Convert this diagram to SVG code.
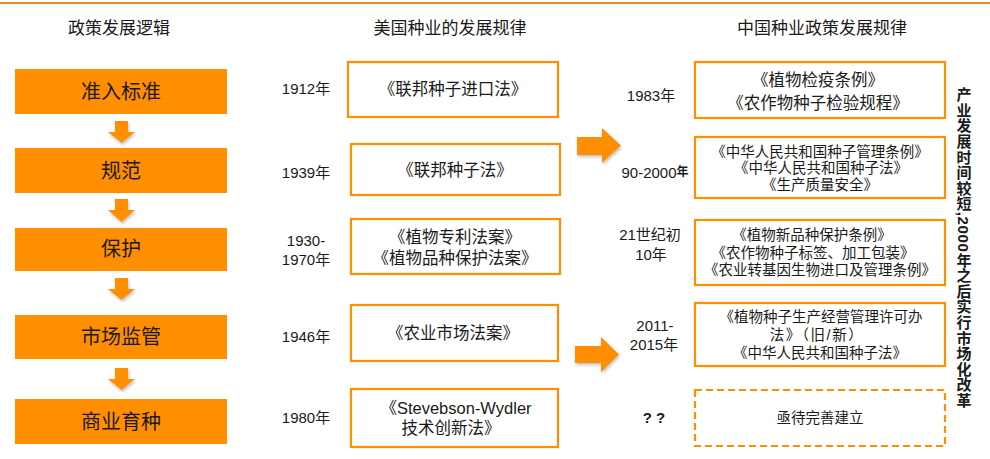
<svg xmlns="http://www.w3.org/2000/svg" width="990" height="459" viewBox="0 0 990 459">
<defs>
<style>
text{font-family:"Liberation Sans","Noto Sans CJK SC",sans-serif;fill:#1a1a1a;text-anchor:middle;dominant-baseline:central}
.hdr{font-size:17px}
.lb{fill:#FF8E00}
.lt{font-size:20px}
.yr{font-size:15px}
.ob{fill:#fff;stroke:#FF8E00;stroke-width:2.2}
.db{fill:#fff;stroke:#FF8E00;stroke-width:2.2;stroke-dasharray:7 4}
.mt{font-size:16.5px}
.rt{font-size:14.5px}
.arr{fill:#FF8E00;filter:url(#sh)}
.vt{font-size:15px;font-weight:bold;writing-mode:vertical-rl;text-anchor:start;dominant-baseline:central;letter-spacing:0.6px}
</style>
<filter id="sh" x="-30%" y="-30%" width="160%" height="160%">
<feDropShadow dx="1" dy="2" stdDeviation="1.5" flood-color="#000" flood-opacity="0.25"/>
</filter>
</defs>
<line x1="0" y1="3" x2="990" y2="3" stroke="#F08A24" stroke-width="2"/>
<g id="headers">
<text class="hdr" x="119" y="28">政策发展逻辑</text>
<text class="hdr" x="450" y="28">美国种业的发展规律</text>
<text class="hdr" x="822" y="28">中国种业政策发展规律</text>
</g>
<g id="logic1"><rect class="lb" x="15" y="69" width="212" height="45"/><text class="lt" x="121" y="92">准入标准</text></g>
<g id="logic2"><rect class="lb" x="15" y="148" width="212" height="45"/><text class="lt" x="121" y="171">规范</text></g>
<g id="logic3"><rect class="lb" x="15" y="228" width="212" height="43"/><text class="lt" x="121" y="249">保护</text></g>
<g id="logic4"><rect class="lb" x="15" y="315" width="212" height="44"/><text class="lt" x="121" y="337">市场监管</text></g>
<g id="logic5"><rect class="lb" x="15" y="399" width="212" height="45"/><text class="lt" x="121" y="422">商业育种</text></g>
<g id="us-years">
<text class="yr" x="306" y="88">1912年</text>
<text class="yr" x="306" y="172">1939年</text>
<text class="yr" x="306" y="240">1930-</text>
<text class="yr" x="306" y="259">1970年</text>
<text class="yr" x="306" y="336">1946年</text>
<text class="yr" x="306" y="417">1980年</text>
</g>
<g id="us1"><rect class="ob" x="348" y="62" width="210" height="55"/><text class="mt" x="453" y="89">《联邦种子进口法》</text></g>
<g id="us2"><rect class="ob" x="351" y="144" width="209" height="51"/><text class="mt" x="455" y="170">《联邦种子法》</text></g>
<g id="us3"><rect class="ob" x="351" y="219" width="209" height="55"/><text class="mt" x="455" y="237">《植物专利法案》</text><text class="mt" x="455" y="258">《植物品种保护法案》</text></g>
<g id="us4"><rect class="ob" x="351" y="305" width="207" height="56"/><text class="mt" x="453" y="333">《农业市场法案》</text></g>
<g id="us5"><rect class="ob" x="351" y="389" width="207" height="58"/><text class="mt" x="456" y="408">《Stevebson-Wydler</text><text class="mt" x="451" y="428">技术创新法》</text></g>
<g id="cn-years">
<text class="yr" x="651" y="95">1983年</text>
<text class="yr" x="655" y="172">90-2000<tspan font-size="12" font-weight="bold">年</tspan></text>
<text class="yr" x="650" y="234">21世纪初</text>
<text class="yr" x="651" y="254">10年</text>
<text class="yr" x="655" y="325">2011-</text>
<text class="yr" x="654" y="344">2015年</text>
<text class="yr" x="654" y="417" font-weight="bold">? ?</text>
</g>
<g id="cn1"><rect class="ob" x="695" y="62" width="250" height="56"/><text class="mt" x="818" y="80">《植物检疫条例》</text><text class="mt" x="818" y="103">《农作物种子检验规程》</text></g>
<g id="cn2"><rect class="ob" x="695" y="137" width="250" height="61"/><text class="rt" x="820" y="152">《中华人民共和国种子管理条例》</text><text class="rt" x="821" y="168">《中华人民共和国种子法》</text><text class="rt" x="820" y="185">《生产质量安全》</text></g>
<g id="cn3"><rect class="ob" x="695" y="220" width="250" height="65"/><text class="rt" x="812" y="235">《植物新品种保护条例》</text><text class="rt" x="813" y="253">《农作物种子标签、加工包装》</text><text class="rt" x="820" y="270">《农业转基因生物进口及管理条例》</text></g>
<g id="cn4"><rect class="ob" x="695" y="303" width="250" height="63"/><text class="rt" x="821" y="317">《植物种子生产经营管理许可办</text><text class="rt" x="817" y="335" letter-spacing="1.5">法》（旧/新）</text><text class="rt" x="820" y="353">《中华人民共和国种子法》</text></g>
<g id="cn5"><rect class="db" x="695" y="390" width="250" height="56"/><text class="rt" x="820" y="418">亟待完善建立</text></g>
<g id="side-note"><text class="vt" x="963" y="87">产业发展时间较短,2000年之后实行市场化改革</text></g>
<g id="connectors">
<path class="arr" d="M115 121H128V132H135L121.5 143L108 132H115Z"/>
<path class="arr" d="M115 199H128V210H135L121.5 222L108 210H115Z"/>
<path class="arr" d="M115 278H128V289H135L121.5 300L108 289H115Z"/>
<path class="arr" d="M115 368H128V379H135L121.5 390L108 379H115Z"/>
<path class="arr" d="M577 137H602V128L621 145.5L602 163V155H577Z"/>
<path class="arr" d="M575 346H601V337L619 354.5L601 372V363H575Z"/>
</g>
</svg>
